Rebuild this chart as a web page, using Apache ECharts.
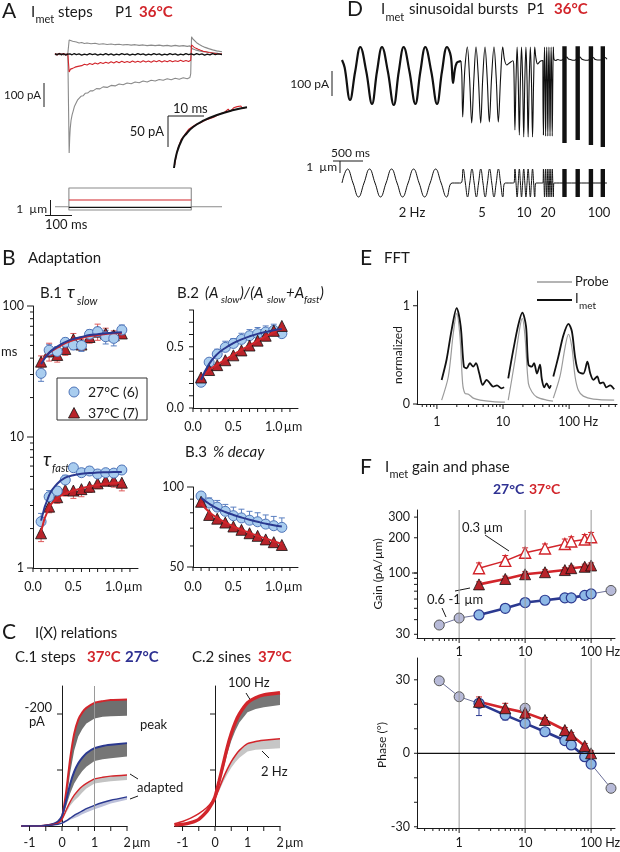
<!DOCTYPE html>
<html><head><meta charset="utf-8">
<script src="https://cdn.jsdelivr.net/npm/echarts@6/dist/echarts.min.js"></script>
<style>html,body{margin:0;padding:0;background:#fff;}#chart{width:620px;height:852px;}</style>
</head><body><div id="chart"></div>
<script>
// ================= DATA =================
// ---- Panel A: I_met steps (time ms, current pA) ----
const aBlack=[[0,2],[8,-2],[16,3],[24,-1],[32,2],[40,-3],[48,1],[52,-3],[56,2],[64,-2],[72,3],[80,-1],[90,2],[100,-3],[110,1],[120,-2],[130,3],[140,-1],[150,2],[160,-3],[170,1],[180,-2],[190,3],[200,-2],[210,2],[220,-3],[230,1],[240,-2],[250,3],[260,-1],[270,2],[280,-3],[290,1],[300,-2],[310,3],[320,-1],[330,2],[340,-3],[350,1],[360,-2],[370,3],[380,-1],[390,2],[400,-3],[410,1],[420,-2],[430,3],[440,-1],[450,2],[460,-3],[470,1],[480,-2],[490,3],[500,-1],[510,2],[520,-2],[530,3],[540,-1],[550,2],[560,-3],[570,1],[580,-2],[590,3],[600,-1],[610,2],[625,-1]];
const aRed=[[0,3],[8,-3],[16,4],[24,-2],[32,3],[40,-3],[48,2],[52,0],[53,-72],[55,-64],[58,-60],[62,-55],[66,-57],[70,-50],[75,-52],[80,-46],[86,-49],[92,-43],[100,-46],[110,-40],[120,-43],[130,-37],[140,-41],[150,-35],[160,-39],[170,-33],[180,-37],[190,-32],[200,-36],[210,-30],[220,-35],[230,-29],[240,-34],[250,-28],[260,-33],[270,-29],[280,-33],[290,-27],[300,-32],[310,-28],[320,-32],[330,-26],[340,-31],[350,-27],[360,-32],[370,-26],[380,-30],[390,-25],[400,-31],[410,-26],[420,-30],[430,-25],[440,-30],[450,-26],[460,-29],[470,-24],[480,-29],[490,-25],[500,-29],[508,-24],[511,38],[515,33],[520,29],[528,24],[536,20],[545,16],[555,12],[565,10],[575,7],[590,5],[605,2],[625,1]];
const aGrayLow=[[0,-3],[8,3],[16,-2],[24,3],[32,-3],[40,2],[48,-2],[52,0],[53,-400],[55,-340],[57,-300],[60,-268],[64,-245],[68,-230],[73,-210],[78,-202],[84,-186],[90,-182],[97,-170],[105,-168],[113,-158],[122,-157],[132,-148],[142,-148],[155,-139],[168,-140],[180,-132],[195,-134],[210,-126],[225,-128],[240,-120],[255,-123],[270,-116],[285,-119],[300,-112],[315,-115],[330,-108],[345,-112],[360,-105],[375,-108],[390,-102],[405,-105],[420,-99],[435,-103],[450,-97],[465,-101],[480,-95],[495,-99],[505,-94],[508,-78],[511,71],[516,62],[522,55],[530,47],[540,40],[550,34],[562,28],[575,23],[590,18],[605,14],[625,10]];
const aGrayUp=[[0,3],[8,-2],[16,2],[24,-3],[32,2],[40,-2],[48,3],[52,0],[53,58],[56,55],[60,51],[66,53],[72,48],[80,50],[90,46],[100,48],[110,44],[120,46],[135,43],[150,45],[165,41],[180,43],[195,40],[210,42],[225,39],[240,41],[255,38],[270,40],[285,37],[300,39],[315,36],[330,38],[345,35],[360,37],[375,35],[390,37],[405,34],[420,36],[435,33],[450,36],[465,33],[480,35],[495,32],[505,34],[510,30],[515,22],[525,18],[540,14],[555,11],[570,9],[590,6],[610,4],[625,3]];
const aInsetFit=[[0,0],[0.75,23.7],[2.14,45.2],[3.53,56],[5.36,66.6],[8.14,76.3],[11.9,85.5],[16.5,93.5],[20.2,98]];
const aInsetRed=[[0.2,5],[0.6,20],[1.0,30],[1.5,38],[2.0,46],[2.5,49],[3.0,54],[3.5,55],[4.0,62],[4.5,59],[5.0,66],[5.5,63],[6.0,70],[6.5,68],[7.0,72],[7.5,70],[8.0,75],[8.5,73],[9.0,78],[9.5,76],[10,80],[10.5,79],[11,82],[11.5,83],[12,85],[12.5,84],[13,88],[13.5,86],[14,90],[14.5,92],[15,95],[15.5,91],[16,94],[16.5,97],[17,95],[17.5,99],[18,97],[18.5,100],[19,96],[19.5,99],[20,98]];
// stimulus (time ms, displacement um)
const aStimGray=[[0,0],[52,0],[52,1.7],[510,1.7],[510,0],[625,0]];
const aStimGrayNeg=[[52,0],[52,-0.3],[510,-0.3],[510,0]];
const aStimRed=[[52,0.61],[510,0.61]];
const aStimBlack=[[52,-0.06],[510,-0.06]];

// ---- Panel D: sinusoidal bursts (time ms, current pA / displacement um) ----
const dCur2Hz=[[0,0],[60,-30],[182,-160],[300,-45],[415,52],[550,-45],[681,-176],[795,-45],[908,52],[1040,-45],[1175,-180],[1290,-45],[1400,52],[1530,-45],[1665,-176],[1780,-45],[1891,52],[2025,-45],[2157,-176],[2270,-45],[2384,52],[2470,15],[2520,-92],[2560,-40],[2603,-12],[2660,-6],[2700,-4]];
const dCur5Hz=[[2700,-4],[2720,-60],[2740,-228],[2770,-100],[2795,-20],[2844,52],[2895,-70],[2944,-252],[2995,-70],[3042,52],[3095,-70],[3148,-252],[3195,-70],[3246,52],[3295,-70],[3344,-248],[3395,-70],[3450,52],[3500,-70],[3548,-248],[3600,-70],[3648,52],[3690,0],[3740,-20],[3800,-12],[3880,-3]];
const dCur10Hz=[[3880,-3],[3900,-30],[3925,-280],[3950,-80],[3975,52],[4000,-80],[4025,-300],[4050,-80],[4075,52],[4100,-80],[4125,-308],[4150,-80],[4175,52],[4200,-80],[4225,-308],[4250,-80],[4275,52],[4300,-80],[4325,-308],[4350,-80],[4375,52],[4400,10],[4440,-16],[4500,-5],[4560,-2]];
const dCur20Hz=[[4560,-20],[4572,-300],[4585,-80],[4597,52],[4610,-80],[4622,-304],[4635,-80],[4647,52],[4660,-80],[4672,-304],[4685,-80],[4697,52],[4710,-80],[4722,-304],[4735,-80],[4747,52],[4760,-80],[4772,-304],[4785,-80],[4797,52],[4810,5]];
const dCurTail=[[4810,5],[4850,-2],[4900,2],[4950,-1],[4998,0],[5102,12],[5140,4],[5200,1],[5250,-1],[5298,0],[5402,12],[5440,4],[5500,0],[5550,-1],[5598,0],[5702,10],[5740,3],[5800,0],[5868,0],[5972,10],[6015,3]];
// 100 Hz blocks: [start, end, top, bottom]
const dCurBlocks=[[5000,5100,55,-332],[5300,5400,55,-320],[5600,5700,55,-340],[5870,5970,55,-348]];
const dStim2Hz=[[0,0],[125,1.1],[250,0],[375,-1.1],[500,0],[625,1.1],[750,0],[875,-1.1],[1000,0],[1125,1.1],[1250,0],[1375,-1.1],[1500,0],[1625,1.1],[1750,0],[1875,-1.1],[2000,0],[2125,1.1],[2250,0],[2375,-1.1],[2500,0]];
const dStim5Hz=[[2700,0],[2750,1.1],[2800,0],[2850,-1.1],[2900,0],[2950,1.1],[3000,0],[3050,-1.1],[3100,0],[3150,1.1],[3200,0],[3250,-1.1],[3300,0],[3350,1.1],[3400,0],[3450,-1.1],[3500,0],[3550,1.1],[3600,0],[3650,-1.1],[3700,0]];
const dStim10Hz=[[3900,0],[3925,1.1],[3950,0],[3975,-1.1],[4000,0],[4025,1.1],[4050,0],[4075,-1.1],[4100,0],[4125,1.1],[4150,0],[4175,-1.1],[4200,0],[4225,1.1],[4250,0],[4275,-1.1],[4300,0],[4325,1.1],[4350,0],[4375,-1.1],[4400,0]];
const dStim20Hz=[[4560,0],[4572.5,1.1],[4585,0],[4597.5,-1.1],[4610,0],[4622.5,1.1],[4635,0],[4647.5,-1.1],[4660,0],[4672.5,1.1],[4685,0],[4697.5,-1.1],[4710,0],[4722.5,1.1],[4735,0],[4747.5,-1.1],[4760,0],[4772.5,1.1],[4785,0],[4797.5,-1.1],[4810,0]];
const dStimEnd=[[6015,0]];
const dStimBlocks=[[5000,5100,1.1,-1.1],[5300,5400,1.1,-1.1],[5600,5700,1.1,-1.1],[5870,5970,1.1,-1.1]];
const dFreqLabels=['2 Hz','5','10','20','100'];

// ---- Panel B: adaptation vs displacement (um) ----
const bX=[0.1,0.2,0.3,0.4,0.5,0.6,0.7,0.8,0.9,1.0,1.1];
const slow27=[30.6,46,45,52.8,50.4,50,60.8,63.7,58.3,56.6,65.6];
const slow37=[37.6,45,42.3,47,55.7,50.8,58,63.7,61.7,59.7,61.7];
const slowErr27=[4,5,4,4,4,5,5,5,7,7,6];
const slowErr37=[4,7,5,5,6,5,6,9,6,5,5];
const slowFit27=[36,44,49,53,56,58,60,61,62,62.5,63];
const slowFit37=[38,44,48,52,55,57,59,60,61,62,62];
const fast27=[2.26,3.5,3.87,4.7,5.83,5.34,5.5,5.22,5.34,5.3,5.6];
const fast37=[1.84,2.94,3.47,3.94,3.9,4.0,4.17,4.43,4.64,4.64,4.48];
const fastErr27=[0.35,0.4,0.3,0.4,0.3,0.4,0.4,0.3,0.3,0.3,0.4];
const fastErr37=[0.25,0.3,0.35,0.4,0.5,0.5,0.4,0.4,0.4,0.5,0.6];
const fastFit27=[2.3,3.6,4.4,4.9,5.1,5.25,5.3,5.35,5.38,5.4,5.4];
const fastFit37=[1.9,2.9,3.4,3.7,3.9,4.05,4.2,4.3,4.4,4.45,4.5];
const ratio27=[0.21,0.374,0.44,0.495,0.527,0.56,0.59,0.607,0.62,0.634,0.607];
const ratio37=[0.249,0.31,0.35,0.39,0.43,0.47,0.51,0.55,0.59,0.63,0.67];
const ratioErr27=[0.02,0.03,0.04,0.05,0.04,0.05,0.05,0.05,0.05,0.05,0.05];
const ratioErr37=[0.02,0.02,0.02,0.03,0.03,0.03,0.03,0.04,0.04,0.04,0.05];
const ratioFit27=[0.23,0.36,0.44,0.49,0.53,0.56,0.585,0.605,0.62,0.635,0.645];
const ratioFit37=[0.24,0.31,0.355,0.395,0.435,0.475,0.51,0.55,0.585,0.62,0.655];
const decay27=[92.5,87,84,81,78,76.5,75,74,72.5,71.5,70.5];
const decay37=[88,78.5,76,73.5,71,69,67,65.5,63.5,62,60.5];
const decayErr27=[2,4,5,5,6,6,6,6,6,6,6];
const decayErr37=[2,2,2,2,2,2,2,2,2,2,2];
const decayFit27=[91,86.5,83,80.5,78.5,76.8,75.3,74,72.8,71.8,71];
const decayFit37=[87,80.5,76.5,73.5,71,69,67.2,65.5,64,62.5,61];
const bXTicks=[0,0.1,0.2,0.3,0.4,0.5,0.6,0.7,0.8,0.9,1.0,1.1,1.2];
const bXLabels=[[0,'0.0'],[0.5,'0.5'],[1,'1.0']];
const b1YMajor=[1,10,100];
const b1YMinor=[2,3,4,5,6,7,8,9,20,30,40,50,60,70,80,90];
const b1YLabels=[[1,'1'],[10,'10'],[100,'100']];
const b2YTicks=[0,0.1,0.2,0.3,0.4,0.5,0.6,0.7,0.8];
const b2YLabels=[[0,'0.0'],[0.5,'0.5']];
const b3YTicks=[50,60,70,80,90,100];
const b3YLabels=[[50,'50'],[100,'100']];

// ---- Panel C: I(X) relations (um, pA) ----
const cX=[-1.25,-1,-0.75,-0.5,-0.25,-0.125,0,0.125,0.25,0.375,0.5,0.625,0.75,1,1.25,1.5,2];
const c1Peak37=[0,0,0,-1,-3,-6,-15,-60,-120,-165,-190,-203,-211,-220,-223,-225,-226];
const c1Peak37Lo=[0,0,0,-1,-2,-4,-8,-40,-95,-135,-160,-173,-183,-192,-195,-196,-197];
const c1Peak27=[0,0,0,-1,-4,-8,-18,-45,-75,-97,-112,-122,-130,-139,-143,-145,-148];
const c1Peak27Lo=[0,0,0,-1,-3,-6,-14,-35,-58,-76,-88,-98,-106,-116,-119,-121,-124];
const c1Adapt37=[0,0,0,-1,-3,-5,-12,-28,-43,-55,-64,-71,-76,-84,-87,-89,-91];
const c1Adapt37Lo=[0,0,0,-1,-2,-4,-10,-23,-36,-45,-52,-60,-67,-76,-78,-80,-82];
const c1Adapt27=[0,0,0,-1,-2,-3,-5,-9,-14,-19,-23,-27,-31,-37,-42,-46,-52];
const c1Adapt27Lo=[0,0,0,-1,-2,-3,-4,-7,-11,-14,-17,-21,-24,-30,-35,-40,-47];
const c2Sine100=[-2,-3,-6,-12,-26,-37,-52,-80,-110,-140,-165,-185,-200,-220,-229,-234,-238];
const c2Sine100Lo=[-2,-3,-6,-12,-25,-36,-50,-76,-100,-128,-152,-170,-185,-203,-209,-212,-216];
const c2Sine2=[-4,-8,-14,-22,-33,-41,-50,-67,-85,-101,-115,-126,-135,-147,-151,-153,-156];
const c2Sine2Lo=[-4,-8,-14,-22,-32,-40,-48,-62,-78,-92,-104,-114,-122,-133,-136,-137,-139];
const cXTicks=[-1,-0.5,0,0.5,1,1.5,2];
const cXLabels=[[-1,'-1'],[0,'0'],[1,'1'],[2,'2']];
const cYTicks=[-100,-200];

// ---- Panel E: FFT (Hz, normalized) ----
const eImet1=[[1.18,0.245],[1.40,0.45],[1.67,0.755],[1.99,0.976],[2.29,0.79],[2.56,0.38],[2.82,0.364],[3.16,0.415],[3.55,0.38],[3.9,0.415],[4.38,0.31],[4.93,0.194],[5.66,0.245],[6.35,0.21],[7.1,0.176],[8.1,0.19],[9.5,0.16],[10.4,0.17]];
const eProbe1=[[1.18,0.04],[1.49,0.28],[1.77,0.72],[1.99,0.92],[2.23,0.69],[2.45,0.21],[2.65,0.11],[3.0,0.10],[3.55,0.06],[4.5,0.04],[7,0.025],[10.7,0.02]];
const eImet2=[[12,0.26],[14.3,0.55],[17.1,0.81],[19.6,0.93],[22.3,0.79],[24.2,0.4],[27.3,0.38],[29.5,0.415],[32.6,0.31],[36.3,0.4],[38.5,0.26],[42,0.17],[45.7,0.21],[50.5,0.16],[53,0.19]];
const eProbe2=[[12,0.04],[15.2,0.45],[18.1,0.79],[19.6,0.87],[21.5,0.69],[24.2,0.21],[27.3,0.125],[32.6,0.07],[45.7,0.04],[57,0.03]];
const eImet3=[[57.7,0.28],[68.7,0.48],[82,0.70],[97.6,0.816],[110,0.74],[123,0.48],[138,0.33],[164,0.31],[189,0.43],[209,0.31],[233,0.245],[266,0.28],[294,0.21],[327,0.22],[366,0.17],[417,0.19],[480,0.15]];
const eProbe3=[[57.7,0.06],[72.7,0.28],[87,0.58],[97.6,0.71],[110,0.58],[123,0.28],[138,0.14],[164,0.08],[233,0.05],[480,0.04]];
const eXMajor=[1,10,100];
const eXMinor=[0.6,0.7,0.8,0.9,2,3,4,5,6,7,8,9,20,30,40,50,60,70,80,90,200,300,400,500];
const eXLabels=[[1,'1'],[10,'10'],[100,'100']];
const eYLabels=[[0,'0'],[1,'1']];

// ---- Panel F: gain & phase (Hz) ----
const fFreq=[2,5,10,20,40,50,80,100];
const gain27=[43.9,50,56,58.6,61.4,61.4,64.5,66.4];
const gain27Err=[2,2,2,2,2,2,2,2];
const gain37=[80,89,97.6,101.6,106,110,113,116];
const gain37Err=[4,5,5,5,5,5,6,6];
const gain37Small=[110,127,149,162,177,186,193,202];
const gain37SmallErr=[12,14,15,15,18,18,20,20];
const gainGrayF=[0.5,1,200];
const gainGray=[36,41.3,71];
const gainGrayLine=[[0.5,36],[1,41.3],[2,43.9],[5,50],[10,56],[20,58.6],[40,61.4],[50,61.4],[80,64.5],[100,66.4],[200,71]];
const phase27=[20.4,15.6,12.2,8.8,5.2,3.4,-1.4,-4.4];
const phase27Err=[5,2,1,1,1,1,1,1];
const phase37=[21,18.4,16.6,13.6,9.5,7.5,3,0];
const phase37Err=[2,2,1,1,1,1,1,1];
const phaseGrayF=[0.5,1,10,200];
const phaseGray=[29.6,23.1,18.4,-14.3];
const phaseGrayLine=[[0.5,29.6],[1,23.1],[2,20.4],[5,15.6],[10,12.2],[20,8.8],[40,5.2],[50,3.4],[80,-1.4],[100,-4.4],[200,-14.3]];
const fXMajor=[1,10,100];
const fXMinor=[0.3,0.4,0.5,0.6,0.7,0.8,0.9,2,3,4,5,6,7,8,9,20,30,40,50,60,70,80,90,200];
const fXLabels=[[1,'1'],[10,'10'],[100,'100']];
const gainYTicks=[30,40,50,60,70,80,90,100,200,300];
const gainYLabels=[[30,'30'],[100,'100'],[200,'200'],[300,'300']];
const phaseYTicks=[-30,-20,-10,0,10,20,30];
const phaseYLabels=[[-30,'-30'],[0,'0'],[30,'30']];

// ================= BUILD =================
const FONT='Lato, "Open Sans", "DejaVu Sans", sans-serif';
const RED='#d2252b', NAVY='#2b3990', BLUET='#2e3192', TRI='#b8232a', LB='#a9cdef', LBE='#4f74b8', GRAY='#8a8a8a', INK='#1a1a1a';
const F=(s,w,it)=>(it?'italic ':'')+(w||'normal')+' '+s+'px '+FONT;
function L(p1,p2,c,w){return {type:'line',shape:{x1:p1[0],y1:p1[1],x2:p2[0],y2:p2[1]},style:{stroke:c||INK,lineWidth:w||1}};}
function T(x,y,s,al,font,fill,va,rot){const o={type:'text',x:x,y:y,style:{text:s,align:al||'center',textAlign:al||'center',verticalAlign:va||'middle',textVerticalAlign:va||'middle',font:font||F(12.5),fill:fill||INK}};if(rot){o.rotation=rot;}return o;}

const grids=[
 {left:55,top:30,width:167,height:130},
 {left:174,top:105,width:73,height:63},
 {left:55,top:183,width:167,height:30},
 {left:342,top:35,width:265,height:120},
 {left:342,top:160,width:265,height:46},
 {left:33,top:306,width:105,height:262},
 {left:193,top:310,width:105,height:98},
 {left:193,top:487,width:105,height:80},
 {left:21.4,top:686,width:105.6,height:140},
 {left:174.4,top:686,width:105.6,height:140},
 {left:417,top:291,width:200,height:113},
 {left:417,top:510,width:198,height:128},
 {left:417,top:658,width:198,height:170}
];
function ax(gi,type,min,max,show,extra){
 const o={gridIndex:gi,type:type,min:min,max:max,show:show,
  axisLine:{show:true,onZero:false,lineStyle:{color:INK,width:1}},
  axisTick:{show:false},axisLabel:{show:false},splitLine:{show:false}};
 if(type==='log'){o.logBase=10;}
 return Object.assign(o,extra||{});
}
const xAxes=[
 ax(0,'value',0,625,false), ax(1,'value',0,20.2,false), ax(2,'value',0,625,false),
 ax(3,'value',0,6015,false), ax(4,'value',0,6015,false),
 ax(5,'value',0,1.3,true), ax(6,'value',0,1.3,true), ax(7,'value',0,1.3,true),
 ax(8,'value',-1.25,2,true), ax(9,'value',-1.25,2,true),
 ax(10,'log',0.5,530,true), ax(11,'log',0.23,230,true), ax(12,'log',0.23,230,true)
];
const cY={inverse:true,axisLine:{show:true,onZero:true,lineStyle:{color:INK,width:1}}};
const yAxes=[
 ax(0,'value',-428,98.4,false), ax(1,'value',0,101.6,false), ax(2,'value',-0.57,2.15,false),
 ax(3,'value',-380,100,false), ax(4,'value',-1.81,1.81,false),
 ax(5,'log',1,100,true), ax(6,'value',0,0.8,true), ax(7,'log',50,100,true),
 ax(8,'value',-250,0,true,cY), ax(9,'value',-250,0,true,cY),
 ax(10,'value',0,1.15,true), ax(11,'log',27.9,345,true), ax(12,'value',-30.5,38.9,true)
];

const S=[];
const zip=(xs,ys)=>xs.map((x,i)=>[x,ys[i]]);
function ln(gi,data,color,w,o){S.push(Object.assign({type:'line',xAxisIndex:gi,yAxisIndex:gi,data:data,symbol:'none',showSymbol:false,lineStyle:{color:color,width:w},z:3,silent:true,animation:false},o||{}));}
function sc(gi,data,sym,size,fill,stroke,bw,z){S.push({type:'scatter',xAxisIndex:gi,yAxisIndex:gi,data:data,symbol:sym,symbolSize:size,itemStyle:{color:fill,borderColor:stroke,borderWidth:bw,opacity:1},z:z||4,silent:true,animation:false});}
function err(gi,xs,ys,es,dir,color){
 const data=xs.map((x,i)=>{const y=ys[i],e=es[i];return dir>0?[x,y,y+e]:(dir<0?[x,y-e,y]:[x,y-e,y+e]);});
 S.push({type:'custom',xAxisIndex:gi,yAxisIndex:gi,data:data,z:2,silent:true,animation:false,
  renderItem:(p,api)=>{const x=api.value(0),a=api.coord([x,api.value(1)]),b=api.coord([x,api.value(2)]),c=3;
   return {type:'group',children:[L(a,b,color,1),L([a[0]-c,a[1]],[a[0]+c,a[1]],color,1),L([b[0]-c,b[1]],[b[0]+c,b[1]],color,1)]};}});
}
function band(gi,xs,hi,lo,color){
 S.push({type:'custom',xAxisIndex:gi,yAxisIndex:gi,data:[[xs[0],hi[0]]],z:1,silent:true,animation:false,
  renderItem:(p,api)=>{const pts=xs.map((x,i)=>api.coord([x,hi[i]])).concat(xs.map((x,i)=>api.coord([x,lo[i]])).reverse());
   return {type:'polygon',shape:{points:pts},style:{fill:color}};}});
}
function blocks(gi,arr,color){
 S.push({type:'custom',xAxisIndex:gi,yAxisIndex:gi,data:arr,z:3,silent:true,animation:false,
  renderItem:(p,api)=>{const a=api.coord([api.value(0),api.value(2)]),b=api.coord([api.value(1),api.value(3)]);
   return {type:'rect',shape:{x:a[0],y:a[1],width:b[0]-a[0],height:b[1]-a[1]},style:{fill:color}};}});
}
function decor(gi,anchor,build){S.push({type:'custom',xAxisIndex:gi,yAxisIndex:gi,data:[anchor],z:6,silent:true,animation:false,renderItem:(p,api)=>({type:'group',children:build(api)})});}
const xT=(api,vals,y0,len)=>vals.map(v=>{const p=api.coord([v,y0]);return L(p,[p[0],p[1]+len]);});
const yT=(api,vals,x0,len)=>vals.map(v=>{const p=api.coord([x0,v]);return L(p,[p[0]-len,p[1]]);});
const xLab=(api,items,y0,dy,font)=>items.map(it=>{const p=api.coord([it[0],y0]);return T(p[0],p[1]+dy,it[1],'center',font||F(12.5));});
const yLab=(api,items,x0,dx,font)=>items.map(it=>{const p=api.coord([x0,it[0]]);return T(p[0]+dx,p[1],it[1],'right',font||F(12.5));});
const unit=(api,v,y0,dx,dy,s)=>{const p=api.coord([v,y0]);return T(p[0]+dx,p[1]+dy,s,'left',F(12.5));};

// ---- A ----
ln(0,aGrayUp,GRAY,1.1); ln(0,aGrayLow,GRAY,1.1); ln(0,aRed,RED,1.1); ln(0,aBlack,'#111',1.3);
ln(1,aInsetRed,RED,1.1); ln(1,aInsetFit,'#111',2,{smooth:0.5,z:4});
ln(2,aStimGray,'#8a8a8a',1.1); ln(2,aStimGrayNeg,'#8a8a8a',1.1); ln(2,aStimRed,RED,1.1); ln(2,aStimBlack,'#111',1.1);
// ---- D ----
ln(3,dCur2Hz,'#111',2.2,{smooth:0.4});
ln(3,[].concat(dCur5Hz,dCur10Hz,dCur20Hz,dCurTail),'#111',1.1,{smooth:0.35});
blocks(3,dCurBlocks,'#111');
ln(4,[].concat(dStim2Hz,dStim5Hz,dStim10Hz,dStim20Hz,dStimEnd),'#111',1,{smooth:0.45});
blocks(4,dStimBlocks,'#111');
// ---- B ----
err(5,bX,slow27,slowErr27,0,'#5a7fc0'); err(5,bX,slow37,slowErr37,0,'#de5a5a');
err(5,bX,fast27,fastErr27,1,'#5a7fc0'); err(5,bX,fast37,fastErr37,-1,'#de5a5a');
sc(5,zip(bX,slow37),'triangle',11,TRI,'#111',0.8); sc(5,zip(bX,slow27),'circle',10,LB,LBE,1);
sc(5,zip(bX,fast37),'triangle',11,TRI,'#111',0.8); sc(5,zip(bX,fast27),'circle',10,LB,LBE,1);
ln(5,zip(bX,slowFit37),RED,2,{smooth:true,z:5}); ln(5,zip(bX,slowFit27),NAVY,2,{smooth:true,z:5});
ln(5,zip(bX,fastFit37),RED,2,{smooth:true,z:5}); ln(5,zip(bX,fastFit27),NAVY,2,{smooth:true,z:5});
err(6,bX,ratio27,ratioErr27,1,'#5a7fc0'); err(6,bX,ratio37,ratioErr37,-1,'#de5a5a');
sc(6,zip(bX,ratio27),'circle',10,LB,LBE,1); sc(6,zip(bX,ratio37),'triangle',11,TRI,'#111',0.8);
ln(6,zip(bX,ratioFit37),RED,2,{smooth:true,z:5}); ln(6,zip(bX,ratioFit27),NAVY,2,{smooth:true,z:5});
err(7,bX,decay27,decayErr27,1,'#5a7fc0'); err(7,bX,decay37,decayErr37,-1,'#de5a5a');
sc(7,zip(bX,decay27),'circle',10,LB,LBE,1); sc(7,zip(bX,decay37),'triangle',11,TRI,'#111',0.8);
ln(7,zip(bX,decayFit37),RED,2,{smooth:true,z:5}); ln(7,zip(bX,decayFit27),NAVY,2,{smooth:true,z:5});
// ---- C ----
band(8,cX,c1Peak37,c1Peak37Lo,'#6f6f6f'); band(8,cX,c1Peak27,c1Peak27Lo,'#767676');
band(8,cX,c1Adapt37,c1Adapt37Lo,'#c3c3c3'); band(8,cX,c1Adapt27,c1Adapt27Lo,'#bcc0da');
ln(8,zip(cX,c1Peak37),RED,2,{smooth:0.2}); ln(8,zip(cX,c1Peak27),NAVY,2,{smooth:0.2});
ln(8,zip(cX,c1Adapt37),RED,1.4,{smooth:0.2}); ln(8,zip(cX,c1Adapt27),NAVY,1.4,{smooth:0.2});
band(9,cX,c2Sine100,c2Sine100Lo,'#777777'); band(9,cX,c2Sine2,c2Sine2Lo,'#c6c6c6');
ln(9,zip(cX,c2Sine2),RED,1.5,{smooth:0.2}); ln(9,zip(cX,c2Sine100),RED,3.4,{smooth:0.2});
// ---- E ----
[eProbe1,eProbe2,eProbe3].forEach(d=>ln(10,d,'#9b9b9b',1.2,{smooth:0.3}));
[eImet1,eImet2,eImet3].forEach(d=>ln(10,d,'#111',1.8,{smooth:0.3}));
// ---- F gain ----
ln(11,gainGrayLine,'#6c7099',1);
ln(11,zip(fFreq,gain27),NAVY,2.6); ln(11,zip(fFreq,gain37),RED,2.6); ln(11,zip(fFreq,gain37Small),RED,1.5);
err(11,fFreq,gain37Small,gain37SmallErr,1,RED); err(11,fFreq,gain37,gain37Err,1,RED); err(11,fFreq,gain27,gain27Err,1,NAVY);
sc(11,zip(gainGrayF,gainGray),'circle',10,'#b7bad8','#555',1);
sc(11,zip(fFreq,gain27),'circle',10,'#8db8e6',NAVY,1.2);
sc(11,zip(fFreq,gain37),'triangle',11,TRI,'#111',0.8);
sc(11,zip(fFreq,gain37Small),'triangle',11,'#ffffff',RED,1.4);
// ---- F phase ----
ln(12,phaseGrayLine,'#6c7099',1);
ln(12,zip(fFreq,phase27),NAVY,2.6); ln(12,zip(fFreq,phase37),RED,2.6);
err(12,fFreq,phase27,phase27Err,-1,NAVY); err(12,fFreq,phase37,phase37Err,1,RED);
sc(12,zip(phaseGrayF,phaseGray),'circle',10,'#b7bad8','#555',1);
sc(12,zip(fFreq,phase27),'circle',10,'#8db8e6',NAVY,1.2);
sc(12,zip(fFreq,phase37),'triangle',11,TRI,'#111',0.8);

// ---- axis decorations ----
decor(5,[0.5,10],api=>[].concat(xT(api,bXTicks,1,4),xLab(api,bXLabels,1,19),[unit(api,1,1,10,19,'µm')],
 yT(api,b1YMajor,0,6),yT(api,b1YMinor,0,3),yLab(api,b1YLabels,0,-9)));
decor(6,[0.5,0.4],api=>[].concat(xT(api,bXTicks,0,4),xLab(api,bXLabels,0,19),[unit(api,1,0,10,19,'µm')],
 yT(api,b2YTicks,0,4),yLab(api,b2YLabels,0,-9)));
decor(7,[0.5,70],api=>[].concat(xT(api,bXTicks,50,4),xLab(api,bXLabels,50,20),[unit(api,1,50,10,20,'µm')],
 yT(api,[50,100],0,6),yT(api,[60,70,80,90],0,3),yLab(api,b3YLabels,0,-9)));
const cDecor=(gi,vline)=>decor(gi,[0,-100],api=>{
 const out=[].concat(xT(api,cXTicks,0,5),xLab(api,cXLabels,0,17),[unit(api,2,0,5,17,'µm')],yT(api,cYTicks,0,5));
 if(vline){out.unshift(L(api.coord([1,0]),api.coord([1,-250]),'#9a9a9a',1));}
 return out;});
cDecor(8,true); cDecor(9,false);
decor(10,[10,0.5],api=>[].concat(xT(api,eXMajor,0,5),xT(api,eXMinor,0,3),xLab(api,eXLabels,0,18),[unit(api,100,0,14,18,'Hz')],
 yT(api,[0,1],0.5,4),yLab(api,eYLabels,0.5,-7)));
decor(11,[10,100],api=>[].concat(
 fXMajor.map(v=>L(api.coord([v,27.9]),api.coord([v,345]),'#9a9a9a',1)),
 xT(api,fXMajor,27.9,5),xT(api,fXMinor,27.9,3),xLab(api,fXLabels,27.9,14),[unit(api,100,27.9,14,14,'Hz')],
 yT(api,gainYTicks,0.23,3),yT(api,[100],0.23,5),yLab(api,gainYLabels,0.23,-7)));
decor(12,[10,0],api=>[].concat(
 fXMajor.map(v=>L(api.coord([v,-30.5]),api.coord([v,38.9]),'#9a9a9a',1)),
 [L(api.coord([0.23,0]),api.coord([230,0]),'#111',1.3)],
 xT(api,fXMajor,-30.5,5),xT(api,fXMinor,-30.5,3),xLab(api,fXLabels,-30.5,15),[unit(api,100,-30.5,14,15,'Hz')],
 yT(api,phaseYTicks,0.23,3),yLab(api,phaseYLabels,0.23,-7)));

// ---- text annotations & scale bars ----
const G=[
 // A
 T(2,11,'A','left',F(21)), T(31,12,'I','left',F(15)), T(35.5,19,'met','left',F(11)), T(58,12,'steps','left',F(15)),
 T(115,12,'P1','left',F(15)), T(139,12,'36°C','left',F(15,'bold'),RED),
 L([44,83],[44,107]), T(41,95,'100 pA','right',F(11.5)),
 L([168,116],[204,116]), L([168,116],[168,147]), T(173,109,'10 ms','left',F(13)), T(164,132,'50 pA','right',F(13)),
 L([50.5,200],[50.5,215.5]), L([45,215.5],[72,215.5]), T(47,209,'1  µm','right',F(12)), T(45,225,'100 ms','left',F(13)),
 // D
 T(347,9,'D','left',F(21)), T(381,9,'I','left',F(15)), T(385.5,17,'met','left',F(11)), T(409,9,'sinusoidal bursts','left',F(15)),
 T(527,9,'P1','left',F(15)), T(554,9,'36°C','left',F(15,'bold'),RED),
 L([332,71],[332,96]), T(329,84,'100 pA','right',F(12)),
 T(331,153,'500 ms','left',F(12)), L([333,161],[363,161]), L([340,161],[340,173]), T(337,167,'1  µm','right',F(12)),
 T(412,213,dFreqLabels[0],'center',F(13)), T(482,213,dFreqLabels[1],'center',F(13)), T(524,213,dFreqLabels[2],'center',F(13)),
 T(548,213,dFreqLabels[3],'center',F(13)), T(599,213,dFreqLabels[4],'center',F(13)),
 // B
 T(2,258,'B','left',F(21)), T(28,258,'Adaptation','left',F(15)),
 T(40,293,'B.1','left',F(15)), T(67,292,'τ','left',F(18,'normal',true)), T(77,301,'slow','left',F(11,'normal',true)),
 T(177,293,'B.2','left',F(15)), T(205,293,'(A','left',F(15,'normal',true)), T(221,300,'slow','left',F(10,'normal',true)),
 T(240,293,')/(A','left',F(15,'normal',true)), T(267,300,'slow','left',F(10,'normal',true)), T(286,293,'+A','left',F(15,'normal',true)),
 T(304,300,'fast','left',F(10,'normal',true)), T(320,293,')','left',F(15,'normal',true)),
 T(185,452,'B.3','left',F(15)), T(213,452,'% decay','left',F(15,'normal',true)),
 T(1,352,'ms','left',F(13)),
 T(43,460,'τ','left',F(19,'normal',true)), T(52,468,'fast','left',F(11,'normal',true)),
 {type:'rect',shape:{x:57,y:378,width:90,height:42},style:{fill:'#fff',stroke:'#333',lineWidth:1}},
 {type:'circle',shape:{cx:74,cy:392,r:5},style:{fill:LB,stroke:LBE,lineWidth:1}},
 {type:'polygon',shape:{points:[[74,407.5],[68.5,418],[79.5,418]]},style:{fill:TRI,stroke:'#111',lineWidth:0.8}},
 T(88,392,'27°C (6)','left',F(14)), T(88,413,'37°C (7)','left',F(14)),
 // C
 T(2,632,'C','left',F(21)), T(35,633,'I(X) relations','left',F(15)),
 T(15,657,'C.1 steps','left',F(15)), T(87,657,'37°C','left',F(15,'bold'),RED), T(125,657,'27°C','left',F(15,'bold'),BLUET),
 T(192,657,'C.2 sines','left',F(15)), T(258,657,'37°C','left',F(15,'bold'),RED),
 T(52,708,'-200','right',F(13)), T(29,722,'pA','left',F(13)),
 T(140,725,'peak','left',F(13)), T(137,788,'adapted','left',F(13)),
 L([130,774],[138,779]), L([130,799],[138,796]),
 T(228,683,'100 Hz','left',F(13)), L([246,693],[251,701]),
 T(261,772,'2 Hz','left',F(13)), L([262,751],[269,758]),
 // E
 T(360,258,'E','left',F(21)), T(384,258,'FFT','left',F(15)),
 T(398,355,'normalized','center',F(12),INK,'middle',Math.PI/2),
 L([537,282],[572,282],'#9b9b9b',1.5), T(575,282,'Probe','left',F(13)),
 L([537,300],[572,300],'#111',2), T(575,299,'I','left',F(13)), T(579,306,'met','left',F(10)),
 // F
 T(360,467,'F','left',F(21)), T(385,467,'I','left',F(15)), T(389.5,474,'met','left',F(11)), T(412,467,'gain and phase','left',F(15)),
 T(493,489,'27°C','left',F(14,'bold'),BLUET), T(529,489,'37°C','left',F(14,'bold'),RED),
 T(378,574,'Gain (pA/µm)','center',F(12),INK,'middle',Math.PI/2),
 T(382,745,'Phase (°)','center',F(12),INK,'middle',Math.PI/2),
 T(462,528,'0.3 µm','left',F(13)), L([485,535],[509,551]),
 T(427,600,'0.6 -1 µm','left',F(13)), L([442,608],[446,617]), L([455,591],[470,588])
];

const chart=echarts.init(document.getElementById('chart'),null,{renderer:'canvas'});
chart.setOption({animation:false,backgroundColor:'#fff',textStyle:{fontFamily:FONT},
 grid:grids,xAxis:xAxes,yAxis:yAxes,series:S,graphic:{elements:G}});
</script></body></html>
